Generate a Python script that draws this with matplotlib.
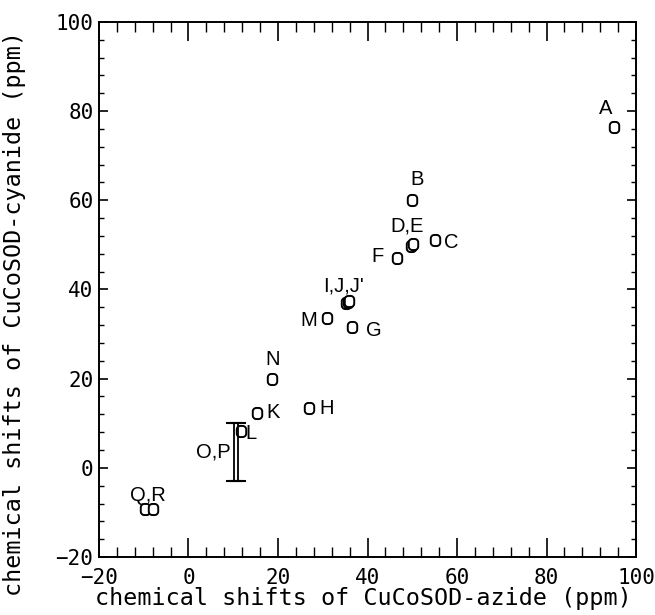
import matplotlib
matplotlib.use("Agg")
import numpy as np
import matplotlib.pyplot as plt
from matplotlib.ticker import MultipleLocator
from matplotlib.path import Path

# data (azide shift, cyanide shift)
labels = ["A", "B", "C", "D", "E", "F", "G", "H", "I", "J", "J'", "K", "L", "M", "N", "Q", "R"]
azide = [95.0, 50.0, 55.0, 49.8, 50.2, 46.5, 36.5, 27.0, 35.3, 35.7, 35.9, 15.4, 11.7, 31.0, 18.7, -9.7, -7.9]
cyanide = [76.5, 60.0, 51.0, 49.8, 50.2, 47.0, 31.5, 13.5, 37.0, 37.2, 37.4, 12.3, 8.3, 33.5, 20.0, -9.2, -9.2]

# O,P shown as range bars
op_azide = [10.2, 11.0]
op_center = [3.5, 3.5]
op_halfrange = [6.5, 6.5]

# annotation texts and positions
ann_text = ["A", "B", "D,E", "C", "F", "I,J,J'", "M", "G", "H", "N", "K", "L", "O,P", "Q,R"]
ann_x = [93.1, 51.0, 48.9, 58.8, 42.2, 34.6, 26.8, 41.3, 30.9, 18.7, 18.8, 13.9, 5.5, -9.0]
ann_y = [80.6, 64.6, 54.3, 50.6, 47.4, 40.7, 33.0, 30.9, 13.4, 24.2, 12.3, 7.6, 3.5, -6.1]

xticks = [-20, 0, 20, 40, 60, 80, 100]
yticks = [-20, 0, 20, 40, 60, 80, 100]


def rounded_box(w=0.85, h=1.0, r=0.32, n=8):
    pts = []
    corners = [(w / 2 - r, h / 2 - r, 0), (-w / 2 + r, h / 2 - r, 90),
               (-w / 2 + r, -h / 2 + r, 180), (w / 2 - r, -h / 2 + r, 270)]
    for cx, cy, a0 in corners:
        for a in np.linspace(np.radians(a0), np.radians(a0 + 90), n):
            pts.append((cx + r * np.cos(a), cy + r * np.sin(a)))
    pts.append(pts[0])
    codes = [Path.MOVETO] + [Path.LINETO] * (len(pts) - 2) + [Path.CLOSEPOLY]
    return Path(pts, codes)


box = rounded_box()

fig = plt.figure(figsize=(6.55, 6.15), dpi=100)
ax = fig.add_axes([0.1511, 0.0943, 0.820, 0.870])

ax.plot(azide, cyanide, linestyle="none", marker=box, markersize=8,
        markerfacecolor="white", markeredgecolor="black", markeredgewidth=1.4)

for xv, yc, yr in zip(op_azide, op_center, op_halfrange):
    ax.errorbar([xv], [yc], yerr=[yr], fmt="none", ecolor="black",
                elinewidth=1.3, capsize=6, capthick=1.5)

for t, xv, yv in zip(ann_text, ann_x, ann_y):
    ax.text(xv, yv, t, ha="center", va="center", fontsize=14.5,
            family="Liberation Sans", color="black")

ax.set_xlim(-20, 100)
ax.set_ylim(-20, 100)
ax.set_xticks(xticks)
ax.set_yticks(yticks)
ax.xaxis.set_minor_locator(MultipleLocator(4))
ax.yaxis.set_minor_locator(MultipleLocator(4))

mono = "DejaVu Sans Mono"
ax.tick_params(axis="x", which="major", direction="in", top=True, length=14, width=1.2,
               labelsize=15, pad=8)
ax.tick_params(axis="x", which="minor", direction="in", top=True, length=7, width=1.0)
ax.tick_params(axis="y", which="major", direction="in", right=True, length=6.5, width=1.2,
               labelsize=15, pad=4)
ax.tick_params(axis="y", which="minor", direction="in", right=True, length=3.5, width=1.0)
for lab in ax.get_xticklabels() + ax.get_yticklabels():
    lab.set_family(mono)

for sp in ax.spines.values():
    sp.set_linewidth(1.4)

ax.set_xlabel("chemical shifts of CuCoSOD-azide (ppm)", family=mono, fontsize=16.8)
ax.xaxis.set_label_coords(0.492, -0.078)
ax.set_ylabel("chemical shifts of CuCoSOD-cyanide (ppm)", family=mono, fontsize=16.8)
ax.yaxis.set_label_coords(-0.158, 0.456)
ax.yaxis.label.set_va("center")
ax.xaxis.label.set_va("center")

fig.savefig("out.png", dpi=100)
